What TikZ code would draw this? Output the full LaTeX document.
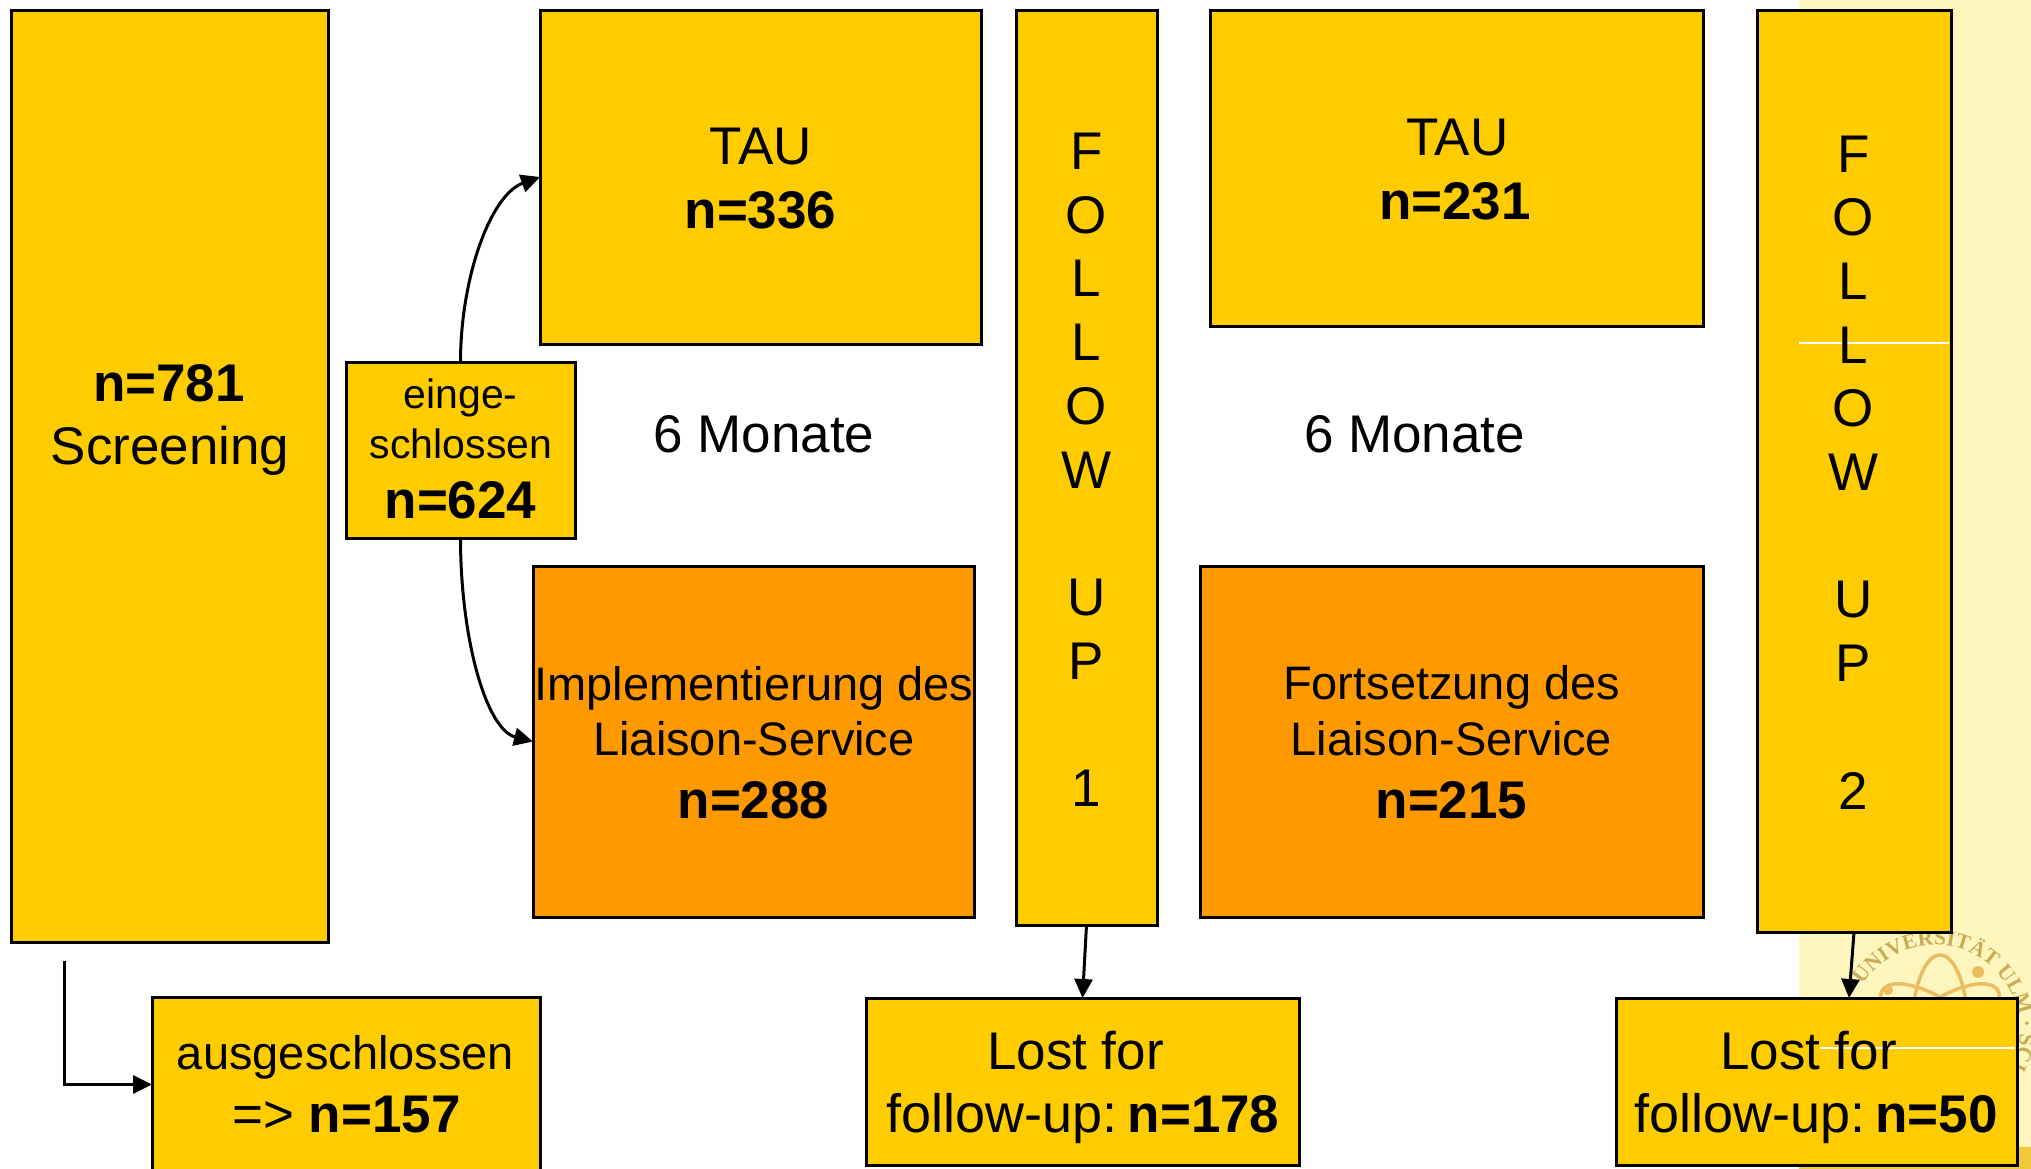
\documentclass[tikz,border=0pt]{standalone}
\usepackage{fontspec}
\setmainfont{Liberation Sans}
\newfontfamily\sealfont{Liberation Serif}
\usetikzlibrary{arrows.meta,decorations.text}
\definecolor{gold}{HTML}{FFCC00}
\definecolor{orng}{HTML}{FF9900}
\definecolor{pale}{HTML}{FFF6BD}
\definecolor{strip}{HTML}{F0C93A}
\definecolor{sealtx}{HTML}{C8AC55}
\definecolor{sealat}{HTML}{E9BE62}
\newcommand{\bx}[6]{\node[#6,minimum width=#4pt-#2pt,minimum height=#5pt-#3pt] (#1) at ({(#2+#4)/2},{(#3+#5)/2}) {};}
\newcommand{\fbig}{\fontsize{53}{63.7}\selectfont}
\newcommand{\fmid}{\fontsize{47}{56}\selectfont}
\newcommand{\fsma}{\fontsize{41}{50}\selectfont}
\newcommand{\ffol}{\fontsize{54}{63.7}\selectfont}
\tikzset{
  x=1pt,y=-1pt,
  boxy/.style={draw=black,fill=gold,line width=3pt,inner sep=0pt,outer sep=0pt},
  boxo/.style={boxy,fill=orng},
  lab/.style={anchor=base,inner sep=0pt,text=black},
  conn/.style={draw=black,line width=3pt,-{Triangle[length=19pt,width=18pt]}},
  hair/.style={draw=white,line width=1.2pt},
  vert/.style={anchor=base,inner sep=0pt,align=center,font=\fbig}
}
\begin{document}
\begin{tikzpicture}
\useasboundingbox (0,0) rectangle (2031,1168);
\clip (0,0) rectangle (2031,1168);
\fill[pale] (1799,0) rectangle (2031,1170);
\fill[strip] (1799,1147) rectangle (2031,1170);
% seal
\draw[sealat,line width=3.5pt,rotate around={90:(1940,1030)}] (1940,1030) ellipse [x radius=75,y radius=28];
\draw[sealat,line width=3.5pt,rotate around={35:(1940,1030)}] (1940,1030) ellipse [x radius=70,y radius=28];
\draw[sealat,line width=3.5pt,rotate around={-35:(1940,1030)}] (1940,1030) ellipse [x radius=70,y radius=28];
\fill[sealat] (1978,972) circle (6);
\fill[sealat] (1888,990) circle (5);
\path[decorate,decoration={text along path,text align=left,
  text={|\sealfont\bfseries\fontsize{21.5}{22}\selectfont\color{sealtx}|UNIVERSITÄT ULM · SCIEND}}]
  (1935,1030) ++(-148:85) arc [start angle=-148,end angle=28,radius=85];
% boxes
\bx{scr}{11}{10}{328}{942}{boxy}
\bx{tauA}{540}{10}{981}{344}{boxy}
\bx{impl}{533}{566}{974}{917}{boxo}
\bx{fuA}{1016}{10}{1157}{925}{boxy}
\bx{tauB}{1210}{10}{1703}{326}{boxy}
\bx{fort}{1200}{566}{1703}{917}{boxo}
\bx{fuB}{1757}{10}{1951}{932}{boxy}
\bx{ein}{346}{362}{575}{538}{boxy}
\bx{aus}{152}{997}{540}{1172}{boxy}
\bx{lostA}{866}{998}{1299}{1165}{boxy}
\bx{lostB}{1616}{998}{2017}{1165}{boxy}
\coordinate (fre) at (64,961);
\coordinate (lbt) at (1849,998);
\coordinate (ha) at (1799,343);
\coordinate (hb) at (1949,343);
\coordinate (hc) at (1820,1048);
\coordinate (hd) at (2015,1048);
% connectors
\draw[conn] (ein.north) .. controls +(0,-83) and +(-50,18) .. (tauA.west);
\draw[conn] (ein.south) .. controls +(0,100) and +(-47,-12) .. (impl.west);
\draw[conn] (fre) |- (aus.west);
\draw[conn] (fuA.south) -- (lostA.north);
\draw[conn] (fuB.south) -- (lbt);
\draw[hair] (ha) -- (hb);
\draw[hair] (hc) -- (hd);
% texts
\node[lab,font=\fbig\bfseries] (t1) at (169,401.5) {n=781};
\node[lab,font=\fbig] (t2) at (170,464.5) {Screening};
\node[lab,font=\fbig] (t3) at (761,164) {TAU};
\node[lab,font=\fbig\bfseries] (t4) at (760.5,228.5) {n=336};
\node[lab,font=\fbig] (t5) at (764,452) {6 Monate};
\node[lab,font=\fbig] (t6) at (1414.5,452) {6 Monate};
\node[lab,font=\fmid] (t7) at (754,700) {Implementierung des};
\node[lab,font=\fmid] (t8) at (754,755.5) {Liaison-Service};
\node[lab,font=\fbig\bfseries] (t9) at (753.5,818) {n=288};
\node[lab,font=\fmid] (t10) at (1451.5,699.5) {Fortsetzung des};
\node[lab,font=\fmid] (t11) at (1451.5,755.5) {Liaison-Service};
\node[lab,font=\fbig\bfseries] (t12) at (1451.5,818) {n=215};
\node[lab,font=\fbig] (t13) at (1457.5,155.5) {TAU};
\node[lab,font=\fbig\bfseries] (t14) at (1455,219.5) {n=231};
\node[lab,font=\fsma] (t15) at (460.5,408.5) {einge-};
\node[lab,font=\fsma] (t16) at (461,458.5) {schlossen};
\node[lab,font=\fbig\bfseries] (t17) at (460.5,518.5) {n=624};
\node[lab,font=\fmid] (t18) at (345.5,1069.5) {ausgeschlossen};
\node[lab,font=\fbig] (t19) at (346.5,1132.5) {=> \textbf{n=157}};
\node[lab,font=\fbig] (t20) at (1075.5,1069) {Lost for};
\node[lab,font=\ffol] (t21) at (1083,1132.5) {follow-up:\hspace{10pt}\textbf{\fbig n=178}};
\node[lab,font=\fbig] (t22) at (1808.5,1069) {Lost for};
\node[lab,font=\ffol] (t23) at (1816,1132.5) {follow-up:\hspace{10pt}\textbf{\fbig n=50}};
\node[vert] (fa) at (1086.5,806.5) {F\\O\\L\\L\\O\\W\\[63.7pt]U\\P\\[63.7pt]1};
\node[vert] (fb) at (1853.5,809) {F\\O\\L\\L\\O\\W\\[63.7pt]U\\P\\[63.7pt]2};
\end{tikzpicture}
\end{document}
